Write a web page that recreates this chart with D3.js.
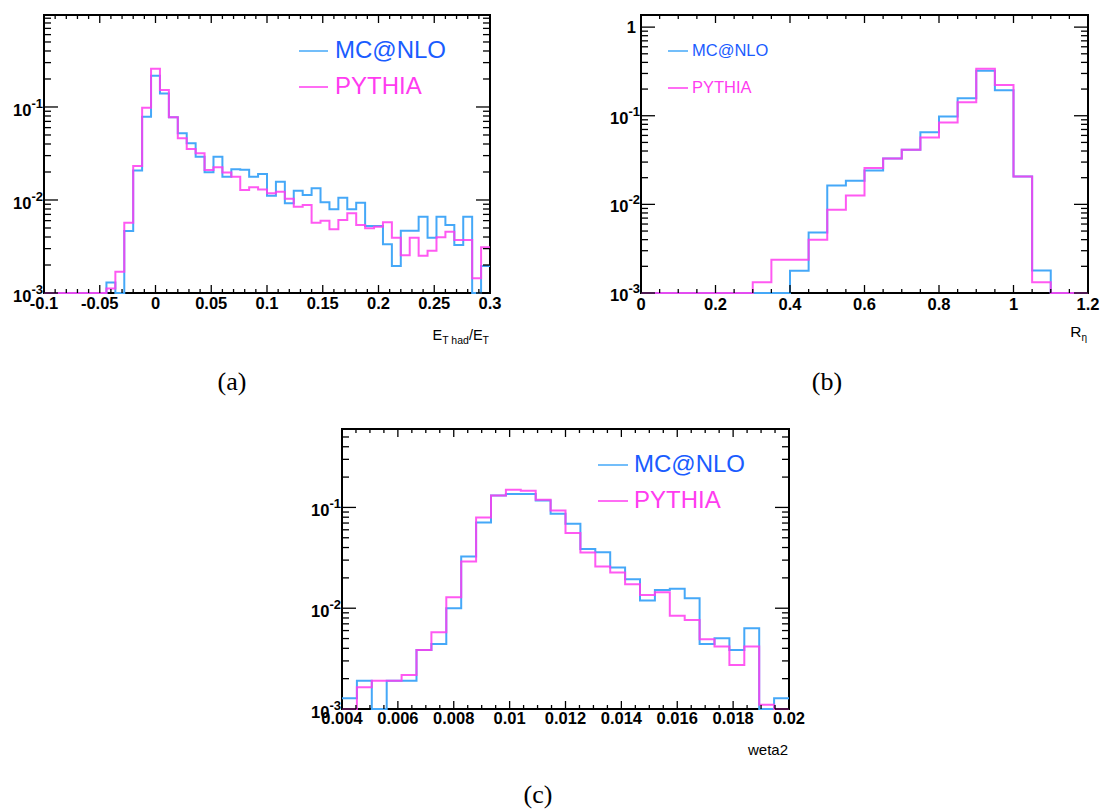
<!DOCTYPE html>
<html><head><meta charset="utf-8">
<script src="https://cdn.jsdelivr.net/npm/d3@7"></script>
<style>body{margin:0;background:#fff}</style>
</head><body>
<svg id="c" width="1100" height="809" xmlns="http://www.w3.org/2000/svg"></svg>
<script>
// ---------------- DATA ----------------
// Panel (a): E_T had / E_T, 50 bins from -0.1 to 0.3
const aRange = [-0.1, 0.3];
const aMCNLO = [0,0,0,0,0,0,0, 0.0013,0,0.00464,0.0207,0.0787,0.217,0.140,0.0775,0.0521,0.0407,0.0292,0.0199,0.0292,0.0178,0.0214,
  0.0212,0.0178,0.0190,0.0111,0.0157,0.00922,0.0126,0.0113,0.0134,0.00944,0.00794,0.0106,0.00794,0.00935,0.00525,0.00525,0.00334,0.00195,
  0.00468,0.00468,0.00661,0.00393,0.00661,0.00538,0.00328,0.00661,0,0.00195];
const aPYTHIA = [0,0,0,0,0,0,0, 0.00112,0.00169,0.0057,0.0232,0.098,0.258,0.152,0.0775,0.046,0.0353,0.0318,0.021,0.0225,0.0197,0.0178,
  0.0128,0.0137,0.0130,0.0118,0.0123,0.0103,0.00847,0.00883,0.0057,0.00599,0.00484,0.0061,0.00719,0.00538,0.00496,0.00516,0.00575,0.00393,
  0.00254,0.00393,0.00252,0.00285,0.00397,0.00456,0.00372,0.00372,0.00144,0.0031];
const aXTickLabels = ["-0.1","-0.05","0","0.05","0.1","0.15","0.2","0.25","0.3"];
const aYTicks = [1e-3, 1e-2, 1e-1];

// Panel (b): R_eta, 24 bins from 0 to 1.2
const bRange = [0, 1.2];
const bMCNLO = [0,0,0,0,0,0,0,0,0.00178,0.00482,0.0163,0.01845,0.0241,0.0329,0.0413,0.0653,0.098,0.158,0.321,0.194,0.0206,0.0018,0,0];
const bPYTHIA = [0,0,0,0,0,0,0.00132,0.00237,0.00237,0.00399,0.00869,0.0126,0.0257,0.0329,0.0413,0.0568,0.0838,0.142,0.338,0.223,0.0206,0.00132,0,0];
const bXTickLabels = ["0","0.2","0.4","0.6","0.8","1","1.2"];
const bYTicks = [1e-3, 1e-2, 1e-1, 1];

// Panel (c): weta2, 30 bins from 0.004 to 0.02
const cRange = [0.004, 0.02];
const cMCNLO = [0.00128,0.00191,0,0.00191,0.00191,0.00386,0.00442,0.0100,0.0326,0.071,0.1315,0.1356,0.136,0.1174,0.0866,
  0.0688,0.0386,0.036,0.0253,0.0194,0.0119,0.0152,0.0156,0.01257,0.00442,0.00504,0.00386,0.00633,0,0.00128];
const cPYTHIA = [0,0.00164,0.00191,0.00191,0.00218,0.00386,0.00578,0.01286,0.0291,0.0796,0.1315,0.1497,0.1466,0.119,0.0934,
  0.0556,0.0357,0.0259,0.0226,0.0173,0.01356,0.0144,0.0084,0.00766,0.00492,0.00416,0.00274,0.00416,0.0011,0];
const cXTickLabels = ["0.004","0.006","0.008","0.01","0.012","0.014","0.016","0.018","0.02"];
const cYTicks = [1e-3, 1e-2, 1e-1];

const seriesNames = ["MC@NLO", "PYTHIA"];

// ---------------- STYLE ----------------
const lineColors = ["#45a8f8", "#ff3cf0"];
const textColors = ["#1a5cff", "#ff3cf0"];
const tickFont = "'Liberation Sans', Arial, Helvetica, sans-serif";

const svg = d3.select("#c");

function drawPanel(p) {
  const g = svg.append("g");
  const x = d3.scaleLinear().domain(p.xRange).range([p.left, p.right]);
  const y = d3.scaleLog().domain(p.yDomain).range([p.bottom, p.top]);

  // frame
  g.append("rect").attr("x", p.left).attr("y", p.top)
    .attr("width", p.right - p.left).attr("height", p.bottom - p.top)
    .attr("fill", "none").attr("stroke", "#000").attr("stroke-width", 2);

  // histograms
  const series = [p.mc, p.py];
  series.forEach((vals, si) => {
    const n = vals.length;
    const w = (p.xRange[1] - p.xRange[0]) / n;
    const yv = v => y(Math.max(v, p.yDomain[0]));
    let d = "M" + x(p.xRange[0]) + "," + yv(vals[0]);
    for (let i = 0; i < n; i++) {
      const x1 = x(p.xRange[0] + (i + 1) * w);
      d += "H" + x1;
      if (i < n - 1) d += "V" + yv(vals[i + 1]);
    }
    g.append("path").attr("d", d).attr("fill", "none")
      .attr("stroke", lineColors[si]).attr("stroke-width", 2)
      .attr("stroke-opacity", si === 1 ? 0.85 : 1)
      .attr("stroke-linejoin", "miter");
  });

  // x ticks (inside, bottom and top)
  const xMajors = p.xLabels.map(Number);
  const nMinor = Math.round((p.xRange[1] - p.xRange[0]) / p.xMinorStep);
  for (let i = 0; i <= nMinor; i++) {
    const v = p.xRange[0] + i * p.xMinorStep;
    const isMajor = xMajors.some(m => Math.abs(m - v) < p.xMinorStep / 10);
    const len = isMajor ? 8 : 4;
    const xx = x(v);
    g.append("line").attr("x1", xx).attr("x2", xx).attr("y1", p.bottom).attr("y2", p.bottom - len)
      .attr("stroke", "#000").attr("stroke-width", 1.3);
    g.append("line").attr("x1", xx).attr("x2", xx).attr("y1", p.top).attr("y2", p.top + len)
      .attr("stroke", "#000").attr("stroke-width", 1.3);
  }
  p.xLabels.forEach(lbl => {
    g.append("text").attr("x", x(Number(lbl))).attr("y", p.bottom + p.xLabelDy)
      .attr("text-anchor", "middle").attr("font-family", tickFont).attr("font-weight", "bold")
      .attr("font-size", 16.5).attr("fill", "#000").text(lbl);
  });

  // y ticks (log), both sides
  const lo = Math.round(Math.log10(p.yDomain[0]));
  const hi = Math.ceil(Math.log10(p.yDomain[1]));
  for (let e = lo; e <= hi; e++) {
    for (let m = 1; m <= 9; m++) {
      const v = m * Math.pow(10, e);
      if (v < p.yDomain[0] * 0.999 || v > p.yDomain[1]) continue;
      const yy = y(v);
      const len = m === 1 ? 14 : 7;
      g.append("line").attr("x1", p.left).attr("x2", p.left + len).attr("y1", yy).attr("y2", yy)
        .attr("stroke", "#000").attr("stroke-width", 1.3);
      g.append("line").attr("x1", p.right).attr("x2", p.right - len).attr("y1", yy).attr("y2", yy)
        .attr("stroke", "#000").attr("stroke-width", 1.3);
    }
  }
  p.yTicks.forEach(v => {
    const yy = y(v);
    const exp = Math.round(Math.log10(v));
    if (exp === 0) {
      g.append("text").attr("x", p.left - 5).attr("y", yy + 6)
        .attr("text-anchor", "end").attr("font-family", tickFont).attr("font-weight", "bold")
        .attr("font-size", 16.5).text("1");
    } else {
      const t = g.append("text").attr("x", p.left - 1).attr("y", yy + p.yLabelDy)
        .attr("text-anchor", "end").attr("font-family", tickFont).attr("font-weight", "bold")
        .attr("font-size", 16.5);
      t.append("tspan").text("10");
      t.append("tspan").attr("dy", -8).attr("font-size", 13).text(String(exp));
    }
  });

  // legend
  seriesNames.forEach((name, i) => {
    const ly = p.legend.y0 + i * p.legend.dy;
    g.append("line").attr("x1", p.legend.lx0).attr("x2", p.legend.lx1)
      .attr("y1", ly).attr("y2", ly).attr("stroke", lineColors[i]).attr("stroke-width", 1.5);
    g.append("text").attr("x", p.legend.tx).attr("y", ly + p.legend.tdy)
      .attr("font-family", tickFont).attr("font-size", p.legend.fs)
      .attr("fill", textColors[i]).text(name);
  });

  // axis title
  p.title(g);

  // caption
  g.append("text").attr("x", p.capX).attr("y", p.capY).attr("text-anchor", "middle")
    .attr("font-family", "'Liberation Serif', 'DejaVu Serif', serif").attr("font-size", 26)
    .text(p.caption);
}

drawPanel({
  left: 44, right: 490, top: 15, bottom: 293,
  xRange: aRange, yDomain: [1e-3, 0.975],
  mc: aMCNLO, py: aPYTHIA, xLabels: aXTickLabels, xMinorStep: 0.01, yTicks: aYTicks,
  xLabelDy: 16, yLabelDy: 9,
  legend: { lx0: 299, lx1: 328, tx: 335, y0: 51, dy: 36, tdy: 7, fs: 24 },
  caption: "(a)", capX: 232, capY: 390,
  title: g => {
    const t = g.append("text").attr("x", 489).attr("y", 340).attr("text-anchor", "end")
      .attr("font-family", tickFont).attr("font-size", 14.5).attr("fill", "#000");
    t.append("tspan").text("E");
    t.append("tspan").attr("dy", 4).attr("font-size", 10.5).text("T had");
    t.append("tspan").attr("dy", -4).text("/E");
    t.append("tspan").attr("dy", 4).attr("font-size", 10.5).text("T");
  }
});

drawPanel({
  left: 641, right: 1088, top: 15, bottom: 293,
  xRange: bRange, yDomain: [1e-3, 1.37],
  mc: bMCNLO, py: bPYTHIA, xLabels: bXTickLabels, xMinorStep: 0.05, yTicks: bYTicks,
  xLabelDy: 17, yLabelDy: 8,
  legend: { lx0: 668, lx1: 688, tx: 692, y0: 51, dy: 37, tdy: 5, fs: 16.5 },
  caption: "(b)", capX: 827, capY: 390,
  title: g => {
    const t = g.append("text").attr("x", 1087).attr("y", 337).attr("text-anchor", "end")
      .attr("font-family", tickFont).attr("font-size", 15.5).attr("fill", "#000");
    t.append("tspan").text("R");
    t.append("tspan").attr("dy", 4).attr("font-size", 10).text("η");
  }
});

drawPanel({
  left: 342, right: 789, top: 429, bottom: 709,
  xRange: cRange, yDomain: [1e-3, 0.6],
  mc: cMCNLO, py: cPYTHIA, xLabels: cXTickLabels, xMinorStep: 0.0005, yTicks: cYTicks,
  xLabelDy: 15, yLabelDy: 9,
  legend: { lx0: 598, lx1: 628, tx: 634, y0: 465, dy: 36, tdy: 7, fs: 24 },
  caption: "(c)", capX: 538, capY: 803,
  title: g => {
    g.append("text").attr("x", 788).attr("y", 755).attr("text-anchor", "end")
      .attr("font-family", tickFont).attr("font-size", 15).attr("fill", "#000").text("weta2");
  }
});
</script>
</body></html>
